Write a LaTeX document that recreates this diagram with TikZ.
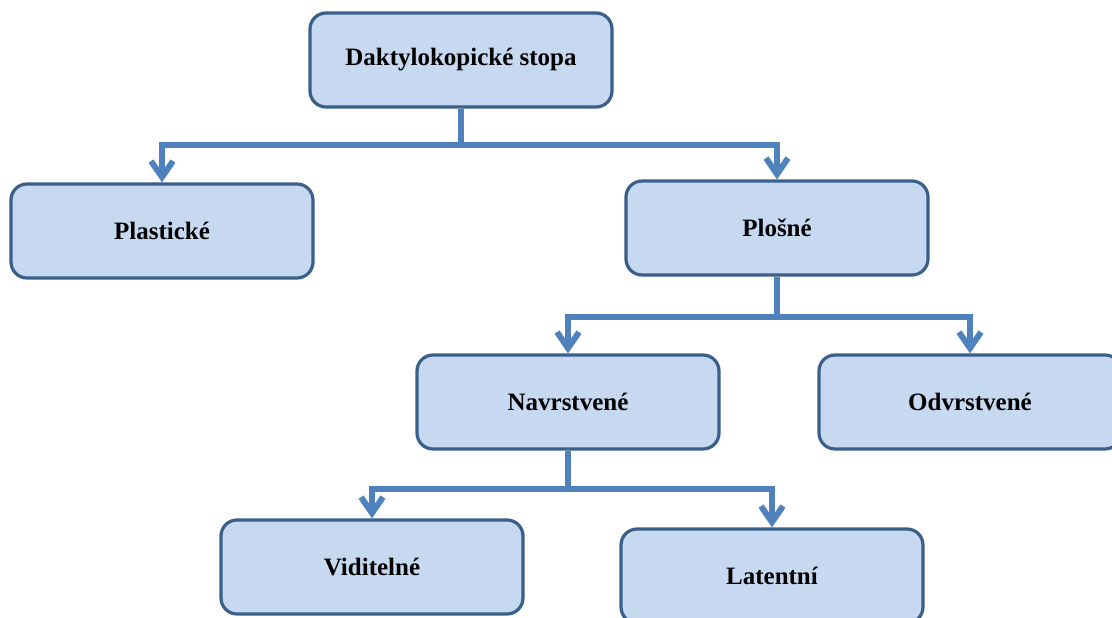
\documentclass[tikz,border=0pt]{standalone}
\usepackage{fontspec}
\setmainfont{Liberation Serif}
\usetikzlibrary{arrows.meta}
\definecolor{boxfill}{HTML}{C6D9F0}
\definecolor{boxline}{HTML}{3A5F8B}
\definecolor{linkblue}{HTML}{4F81BD}
\begin{document}
\begin{tikzpicture}[x=1pt,y=-1pt,
  kind/.style={draw=boxline,fill=boxfill,line width=3.2pt,rounded corners=16pt,
    minimum width=302pt,minimum height=94pt,inner sep=0pt,
    font=\fontsize{25}{30}\selectfont\bfseries},
  link/.style={draw=linkblue,line width=6pt,
    -{Straight Barb[length=16pt,width=22pt]}}]%
\useasboundingbox (0,0) rectangle (1112,618);
\clip (0,0) rectangle (1112,618);
% boxes
\node[kind] (stopa)  at (461,60)  {Daktylokopické stopa};
\node[kind] (plast)  at (162,231) {Plastické};
\node[kind] (plosne) at (777,228) {Plošné};
\node[kind] (navrst) at (568,402) {Navrstvené};
\node[kind] (odvrst) at (970,402) {Odvrstvené};
\node[kind] (vidit)  at (372,567) {Viditelné};
\node[kind] (latent) at (772,576) {Latentní};
% connectors
\draw[link] (stopa.south) -- ++(0,36) -| (plast.north);
\draw[link] (stopa.south) -- ++(0,36) -| (plosne.north);
\draw[link] (plosne.south) -- ++(0,40) -| (navrst.north);
\draw[link] (plosne.south) -- ++(0,40) -| (odvrst.north);
\draw[link] (navrst.south) -- ++(0,38) -| (vidit.north);
\draw[link] (navrst.south) -- ++(0,38) -| (latent.north);
\end{tikzpicture}
\end{document}
